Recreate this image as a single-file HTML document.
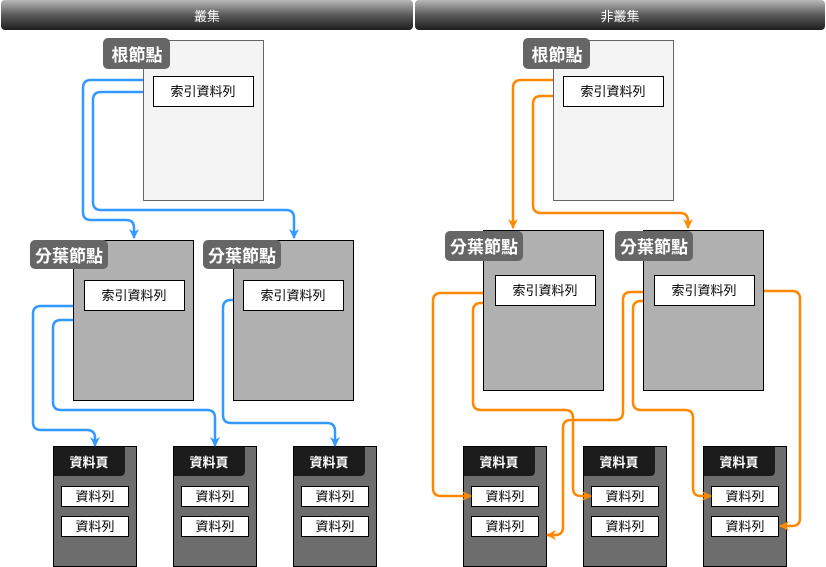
<!DOCTYPE html>
<html><head><meta charset="utf-8"><style>
body{margin:0;background:#fff}
svg{display:block}
text{font-family:"Liberation Sans","Noto Sans CJK TC",sans-serif}
</style></head><body>
<svg width="826" height="567" viewBox="0 0 826 567" xmlns="http://www.w3.org/2000/svg">
<defs>
<linearGradient id="hg" x1="0" y1="0" x2="0" y2="1">
<stop offset="0" stop-color="#b8b8b8"/><stop offset="0.5" stop-color="#5a5a5a"/><stop offset="1" stop-color="#1e1e1e"/>
</linearGradient>
<marker id="ab" viewBox="0 0 10 10" refX="9" refY="5" markerWidth="4" markerHeight="4" orient="auto"><path d="M0,0 L10,5 L0,10 L3,5 z" fill="#3399ff"/></marker>
<marker id="ao" viewBox="0 0 10 10" refX="9" refY="5" markerWidth="4" markerHeight="4" orient="auto"><path d="M0,0 L10,5 L0,10 L3,5 z" fill="#ff8800"/></marker>
</defs>
<rect x="1" y="0" width="412" height="30" rx="4" fill="url(#hg)"/>
<rect x="415" y="0" width="410" height="30" rx="4" fill="url(#hg)"/>
<text x="207" y="21" fill="#fff" font-size="13" text-anchor="middle">叢集</text>
<text x="620" y="21" fill="#fff" font-size="13" text-anchor="middle">非叢集</text>

<g font-size="13" text-anchor="middle">
<!-- left root -->
<rect x="143.5" y="40.5" width="120" height="160" fill="#f4f4f4" stroke="#666"/>
<rect x="153.5" y="76.5" width="100" height="30" fill="#fff" stroke="#000"/>
<text x="203" y="96">索引資料列</text>
<rect x="103" y="38" width="67" height="31" rx="5" fill="#666"/>
<text x="137" y="61" fill="#fff" font-size="17" font-weight="bold">根節點</text>
<!-- left leafs -->
<rect x="73.5" y="240.5" width="120" height="160" fill="#b0b0b0" stroke="#000"/>
<rect x="84.5" y="280.5" width="100" height="30" fill="#fff" stroke="#000"/>
<text x="134" y="300">索引資料列</text>
<rect x="30" y="240" width="78" height="29" rx="5" fill="#666"/>
<text x="69" y="262" fill="#fff" font-size="17" font-weight="bold">分葉節點</text>
<rect x="233.5" y="240.5" width="120" height="160" fill="#b0b0b0" stroke="#000"/>
<rect x="243.5" y="280.5" width="100" height="30" fill="#fff" stroke="#000"/>
<text x="293" y="300">索引資料列</text>
<rect x="203" y="240" width="78" height="29" rx="5" fill="#666"/>
<text x="242" y="262" fill="#fff" font-size="17" font-weight="bold">分葉節點</text>
<!-- right root -->
<rect x="553.5" y="40.5" width="120" height="160" fill="#f4f4f4" stroke="#666"/>
<rect x="563.5" y="76.5" width="100" height="30" fill="#fff" stroke="#000"/>
<text x="613" y="96">索引資料列</text>
<rect x="523" y="38" width="67" height="31" rx="5" fill="#666"/>
<text x="557" y="61" fill="#fff" font-size="17" font-weight="bold">根節點</text>
<!-- right leafs -->
<rect x="483.5" y="230.5" width="120" height="160" fill="#b0b0b0" stroke="#000"/>
<rect x="495.5" y="275.5" width="100" height="30" fill="#fff" stroke="#000"/>
<text x="545" y="295">索引資料列</text>
<rect x="445" y="231" width="78" height="30" rx="5" fill="#666"/>
<text x="484" y="253" fill="#fff" font-size="17" font-weight="bold">分葉節點</text>
<rect x="643.5" y="230.5" width="120" height="160" fill="#b0b0b0" stroke="#000"/>
<rect x="654.5" y="275.5" width="100" height="30" fill="#fff" stroke="#000"/>
<text x="704" y="295">索引資料列</text>
<rect x="615" y="231" width="78" height="30" rx="5" fill="#666"/>
<text x="654" y="253" fill="#fff" font-size="17" font-weight="bold">分葉節點</text>
</g>

<!-- data pages -->
<g font-size="13" text-anchor="middle">
<g id="dp">
<rect x="53.5" y="446.5" width="83" height="120" fill="#6d6d6d" stroke="#000"/>
<path d="M54,447 H125 V471 Q125,476 120,476 H54 z" fill="#1c1c1c"/>
<text x="89" y="467" fill="#fff" font-weight="bold">資料頁</text>
<rect x="61.5" y="486.5" width="67" height="20" fill="#fff" stroke="#000"/>
<text x="95" y="501">資料列</text>
<rect x="61.5" y="516.5" width="67" height="20" fill="#fff" stroke="#000"/>
<text x="95" y="531">資料列</text>
</g>
<use href="#dp" x="120"/>
<use href="#dp" x="240"/>
<use href="#dp" x="410"/>
<use href="#dp" x="530"/>
<use href="#dp" x="650"/>
</g>

<!-- blue connectors -->
<g fill="none" stroke="#3399ff" stroke-width="2.5" marker-end="url(#ab)">
<path d="M143,80 H91 Q83,80 83,88 V212 Q83,220 91,220 H126 Q134,220 134,228 V238"/>
<path d="M143,92 H101 Q93,92 93,100 V202 Q93,210 101,210 H286 Q294,210 294,218 V238"/>
<path d="M73,306 H41 Q33,306 33,314 V422 Q33,430 41,430 H87 Q95,430 95,438 V446"/>
<path d="M73,320 H61 Q53,320 53,328 V402 Q53,410 61,410 H207 Q215,410 215,418 V446"/>
<path d="M233,300 H231 Q223,300 223,308 V415 Q223,423 231,423 H327 Q335,423 335,431 V446"/>
</g>
<!-- orange connectors -->
<g fill="none" stroke="#ff8800" stroke-width="2.5" marker-end="url(#ao)">
<path d="M553,80 H521 Q513,80 513,88 V228"/>
<path d="M553,96 H541 Q533,96 533,104 V205 Q533,213 541,213 H680 Q688,213 688,221 V228"/>
<path d="M483,293 H441 Q433,293 433,301 V488 Q433,496 441,496 H471"/>
<path d="M483,303 H481 Q473,303 473,311 V402 Q473,410 481,410 H565 Q573,410 573,418 V488 Q573,496 581,496 H591"/>
<path d="M643,292 H631 Q623,292 623,300 V412 Q623,420 615,420 H571 Q563,420 563,428 V527 Q563,535 555,535 H547"/>
<path d="M643,301 H641 Q633,301 633,309 V402 Q633,410 641,410 H685 Q693,410 693,418 V488 Q693,496 701,496 H711"/>
<path d="M764,291 H792 Q800,291 800,299 V518 Q800,526 792,526 H780"/>
</g>
</svg>
</body></html>
